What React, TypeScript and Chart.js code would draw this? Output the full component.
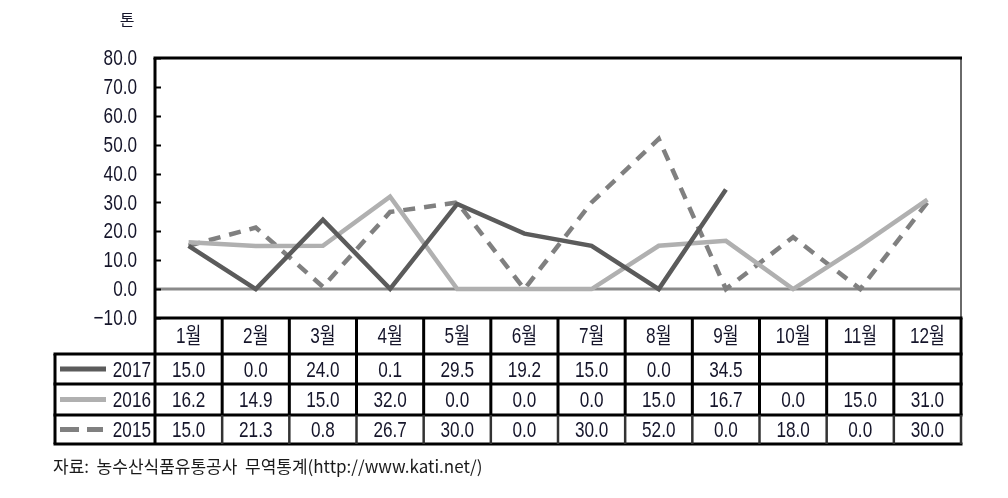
import React, { useEffect, useRef } from "react";
import { Chart, registerables } from "chart.js";

Chart.register(...registerables);

const months = ["1월", "2월", "3월", "4월", "5월", "6월", "7월", "8월", "9월", "10월", "11월", "12월"];
const values2017: (number | null)[] = [15.0, 0.0, 24.0, 0.1, 29.5, 19.2, 15.0, 0.0, 34.5, null, null, null];
const values2016: (number | null)[] = [16.2, 14.9, 15.0, 32.0, 0.0, 0.0, 0.0, 15.0, 16.7, 0.0, 15.0, 31.0];
const values2015: (number | null)[] = [15.0, 21.3, 0.8, 26.7, 30.0, 0.0, 30.0, 52.0, 0.0, 18.0, 0.0, 30.0];
const seriesNames = ["2017", "2016", "2015"];
const yMin = -10;
const yMax = 80;
const yStep = 10;
const unitLabel = "톤";
const sourceNote = "자료:  농수산식품유통공사  무역통계(http://www.kati.net/)";

const C2017 = "#5b5b5b";
const C2016 = "#b0b0b0";
const C2015 = "#808080";
const NUM_FONT = "'Liberation Sans', 'Noto Sans CJK KR', sans-serif";
const KR_FONT = "'Noto Sans CJK KR', sans-serif";
const TEXT = "#15152a";
const SQUEEZE = 0.78;

function squeezedText(ctx: any, text: string, x: number, y: number, align: "left" | "right" | "center") {
  ctx.save();
  ctx.translate(x, y);
  ctx.scale(SQUEEZE, 1);
  ctx.textAlign = align;
  ctx.fillText(text, 0, 0);
  ctx.restore();
}

function fmt(v: number) {
  const s = Math.abs(v).toFixed(1);
  return v < 0 ? "\u2212" + s : s;
}

const tablePlugin = {
  id: "tablePlugin",
  beforeDatasetsDraw(chart: any) {
    const { ctx, chartArea, scales } = chart;
    const y0 = scales.y.getPixelForValue(0);
    ctx.save();
    ctx.strokeStyle = "#8a8a8a";
    ctx.lineWidth = 3;
    ctx.beginPath();
    ctx.moveTo(chartArea.left, y0);
    ctx.lineTo(chartArea.right, y0);
    ctx.stroke();
    ctx.restore();
  },
  afterDraw(chart: any) {
    const { ctx, chartArea, scales } = chart;
    const { left, right, top, bottom } = chartArea;
    const colW = (right - left) / months.length;
    const rowY = [bottom, bottom + 36, bottom + 66, bottom + 97, bottom + 126];
    const tableLeft = 55;
    ctx.save();

    // y tick labels and inward tick marks
    ctx.fillStyle = TEXT;
    ctx.textBaseline = "middle";
    ctx.font = `22px ${NUM_FONT}`;
    ctx.strokeStyle = "#000";
    ctx.lineWidth = 2;
    scales.y.ticks.forEach((t: any) => {
      const py = scales.y.getPixelForValue(t.value);
      squeezedText(ctx, fmt(Number(t.value)), 137, py + 1, "right");
      const ry = Math.round(py) + 0.5;
      ctx.beginPath();
      ctx.moveTo(left, ry);
      ctx.lineTo(left + 6, ry);
      ctx.stroke();
    });

    // plot frame
    ctx.strokeStyle = "#6a6a6a";
    ctx.lineWidth = 2;
    ctx.beginPath();
    ctx.moveTo(right, top);
    ctx.lineTo(right, bottom);
    ctx.stroke();
    ctx.strokeStyle = "#000";
    ctx.lineWidth = 3;
    ctx.beginPath();
    ctx.moveTo(left - 1.5, top);
    ctx.lineTo(right + 1, top);
    ctx.stroke();
    ctx.beginPath();
    ctx.moveTo(left, top);
    ctx.lineTo(left, rowY[4]);
    ctx.stroke();

    // table horizontal lines
    ctx.lineWidth = 3;
    ctx.beginPath();
    ctx.moveTo(left, rowY[0]);
    ctx.lineTo(right + 1.5, rowY[0]);
    for (let r = 1; r < rowY.length; r++) {
      ctx.moveTo(tableLeft - 1.5, rowY[r]);
      ctx.lineTo(right + 1.5, rowY[r]);
    }
    ctx.stroke();
    // table vertical lines
    ctx.beginPath();
    ctx.moveTo(tableLeft, rowY[1]);
    ctx.lineTo(tableLeft, rowY[4]);
    for (let i = 1; i <= months.length; i++) {
      const px = left + i * colW;
      ctx.moveTo(px, rowY[0]);
      ctx.lineTo(px, rowY[3]);
    }
    ctx.stroke();
    ctx.strokeStyle = "#333";
    ctx.lineWidth = 2.5;
    ctx.beginPath();
    for (let i = 1; i <= months.length; i++) {
      const px = left + i * colW;
      ctx.moveTo(px, rowY[3]);
      ctx.lineTo(px, rowY[4]);
    }
    ctx.stroke();

    // header labels
    ctx.fillStyle = TEXT;
    ctx.textBaseline = "middle";
    ctx.font = `22px ${NUM_FONT}`;
    months.forEach((m, i) => {
      const cx = scales.x.getPixelForValue(i);
      squeezedText(ctx, m, cx, (rowY[0] + rowY[1]) / 2 + 1, "center");
    });

    // data rows
    const rows = [values2017, values2016, values2015];
    rows.forEach((vals, r) => {
      const cy = (rowY[r + 1] + rowY[r + 2]) / 2 + 1.5;
      vals.forEach((v, i) => {
        if (v === null) return;
        const cx = scales.x.getPixelForValue(i);
        squeezedText(ctx, v.toFixed(1), cx, cy, "center");
      });
    });

    // legend in left column
    const colors = [C2017, C2016, C2015];
    rows.forEach((_, r) => {
      const cy = (rowY[r + 1] + rowY[r + 2]) / 2;
      ctx.strokeStyle = colors[r];
      ctx.lineWidth = 5;
      ctx.setLineDash(r === 2 ? [19, 8] : []);
      ctx.beginPath();
      ctx.moveTo(60, cy);
      ctx.lineTo(r === 2 ? 103 : 106, cy);
      ctx.stroke();
      ctx.setLineDash([]);
      ctx.fillStyle = TEXT;
      squeezedText(ctx, seriesNames[r], 151, cy + 1.5, "right");
    });

    // unit label
    ctx.textAlign = "center";
    ctx.font = `16px ${KR_FONT}`;
    ctx.fillText(unitLabel, 127, 20);

    // source note
    ctx.textAlign = "left";
    ctx.font = `17px ${KR_FONT}`;
    ctx.fillStyle = "#1a1a1a";
    ctx.fillText(sourceNote, 53, 467);

    ctx.restore();
  },
};

export default function App() {
  const ref = useRef<HTMLCanvasElement | null>(null);
  useEffect(() => {
    if (!ref.current) return;
    const chart = new Chart(ref.current, {
      type: "line",
      data: {
        labels: months,
        datasets: [
          {
            label: seriesNames[0],
            data: values2017,
            borderColor: C2017,
            borderWidth: 4.5,
            pointRadius: 0,
            tension: 0,
            spanGaps: false,
          },
          {
            label: seriesNames[1],
            data: values2016,
            borderColor: C2016,
            borderWidth: 4.5,
            pointRadius: 0,
            tension: 0,
          },
          {
            label: seriesNames[2],
            data: values2015,
            borderColor: C2015,
            borderWidth: 4.5,
            borderDash: [12, 9],
            pointRadius: 0,
            tension: 0,
          },
        ],
      },
      options: {
        responsive: false,
        animation: false,
        devicePixelRatio: 1,
        layout: { padding: { left: 0, right: 47, top: 58, bottom: 180 } },
        plugins: { legend: { display: false }, tooltip: { enabled: false } },
        scales: {
          x: { type: "category", offset: true, display: false },
          y: {
            min: yMin,
            max: yMax,
            afterFit: (s: any) => {
              s.width = 155;
            },
            grid: { display: false, drawTicks: false },
            border: { display: false },
            ticks: {
              stepSize: yStep,
              padding: 18,
              color: "rgba(0,0,0,0)",
              font: { family: NUM_FONT, size: 21 },
              callback: (v: any) => Number(v).toFixed(1),
            },
          },
        },
      },
      plugins: [tablePlugin],
    });
    return () => chart.destroy();
  }, []);
  return (
    <div style={{ position: "fixed", left: 0, top: 0, width: 1008, height: 498, background: "#fff" }}>
      <canvas ref={ref} width={1008} height={498} />
    </div>
  );
}
